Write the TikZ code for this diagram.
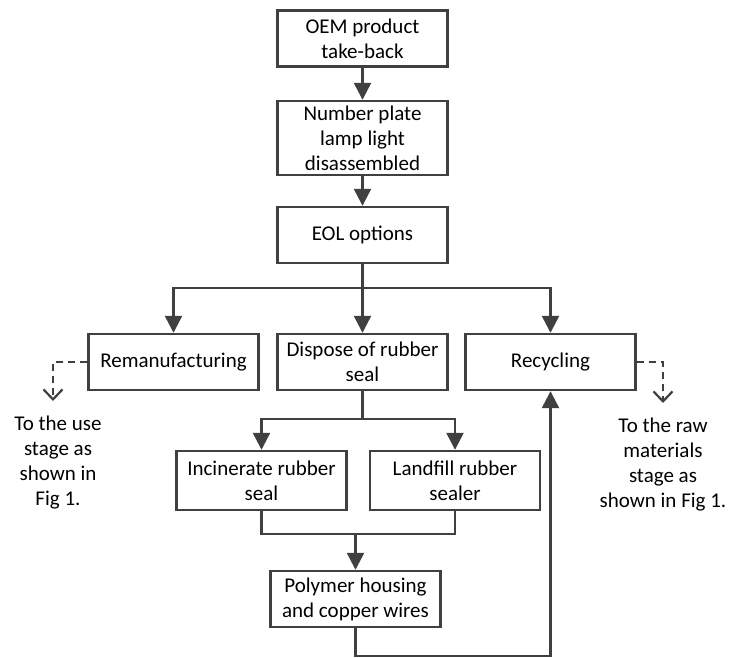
\documentclass[tikz,border=0pt]{standalone}
\usepackage{fontspec}
\setmainfont{Carlito}
\usepackage{tikz}
\usetikzlibrary{arrows.meta}
\definecolor{linegray}{RGB}{64,64,64}
\tikzstyle{every node}=[font=\fontsize{21}{25}\selectfont, text=black]

\begin{document}
\begin{tikzpicture}[x=1pt, y=-1pt, line width=2.4pt, color=linegray,
	box/.style={draw, align=center, minimum width=170pt, minimum height=56pt, inner sep=2pt},
	note/.style={align=center, anchor=north, inner sep=0pt},
	>={Triangle[width=17pt,length=17pt]},
	todash/.style={line width=2.2pt, dash pattern=on 7pt off 5pt, -{Straight Barb[width=19pt,length=10pt]}}]
		\useasboundingbox (0,0) rectangle (731,658);
		\node[box] (oem) at (362.5,38.5) {OEM product\\take-back};
		\node[box, minimum height=74pt] (disas) at (362.5,138) {Number plate\\lamp light\\disassembled};
		\node[box] (eol) at (362.5,235) {EOL options};
		\node[box] (reman) at (173.5,362) {Remanufacturing};
		\node[box] (dispose) at (362.5,362) {Dispose of rubber\\seal};
		\node[box] (recyc) at (550.5,362) {Recycling};
		\node[box, minimum height=59pt] (incin) at (261.5,480.5) {Incinerate rubber\\seal};
		\node[box, minimum height=59pt] (landf) at (455,480.5) {Landfill rubber\\sealer};
		\node[box] (poly) at (355.5,599) {Polymer housing\\and copper wires};
		\node[note] (usetxt) at (58,415) {To the use\\stage as\\shown in\\Fig 1.};
		\node[note] (rawtxt) at (663,417) {To the raw\\materials\\stage as\\shown in Fig 1.};
		\coordinate (usetip) at (53,401);
		\coordinate (rawtip) at (663,403);
		\draw[->] (oem) -- (disas);
		\draw[->] (disas) -- (eol);
		\draw (eol.south) -- ++(0,24) coordinate (fork1); % three EOL branches
		\draw[->] (fork1) -| (reman.north);
		\draw[->] (fork1) -- (dispose.north);
		\draw[->] (fork1) -| (recyc.north);
		\draw (dispose.south) -- ++(0,28) coordinate (fork2); % rubber seal split
		\draw[->] (fork2) -| (incin.north);
		\draw[->] (fork2) -| (landf.north);
		\draw (incin.south) -- ++(0,23) coordinate (merge) -| (landf.south);
		\draw[->] (merge -| poly.north) -- (poly.north);
		\draw[->] (poly.south) -- ++(0,28) -| (recyc.south); % back to recycling
		\draw[todash] (reman.west) -| (usetip);
		\draw[todash] (recyc.east) -| (rawtip);
	\end{tikzpicture}
\end{document}
